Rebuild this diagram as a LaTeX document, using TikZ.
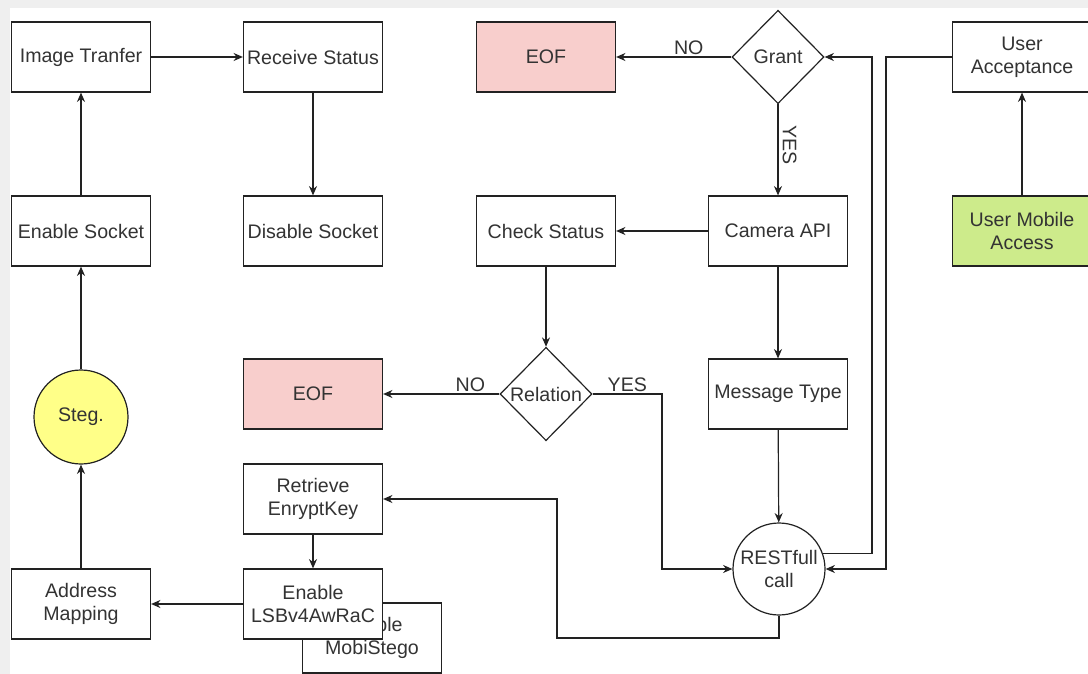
\documentclass[tikz,border=0pt]{standalone}
\usepackage{fontspec}
\setmainfont{Liberation Sans}
\usepackage{xcolor}
\usetikzlibrary{arrows.meta,shapes.geometric,calc}
\definecolor{txt}{HTML}{333333}
\definecolor{edge}{HTML}{222222}
\definecolor{eofred}{HTML}{F8CECC}
\definecolor{mobgreen}{HTML}{CDEB8B}
\definecolor{stegyel}{HTML}{FFFF88}
\definecolor{pane}{HTML}{EFEFEF}

\begin{document}
\begin{tikzpicture}[x=0.75pt,y=-0.75pt,
    font=\fontsize{14.7}{17.3}\selectfont, text=txt,
    box/.style={draw=edge, line width=0.9pt, fill=white, minimum width=104.25pt,
        minimum height=52.5pt, inner sep=1pt, align=center},
    ask/.style={draw=edge, diamond, line width=0.9pt, fill=white,
        minimum width=69pt, minimum height=70pt, inner sep=0pt},
    blob/.style={draw=edge, circle, line width=0.9pt, fill=white,
        minimum size=69pt, inner sep=0pt, align=center},
    arr/.style={-{Stealth[length=7pt,width=6pt]}, line width=0.9pt, draw=edge},
    wire/.style={line width=0.9pt, draw=edge}]

    % page
    \fill[pane] (0,0) rectangle (1088,674);
    \fill[white] (10,8) rectangle (1088,674);
    \useasboundingbox (0,0) rectangle (1088,674);

    % socket column
    \node[box] (img) at (81,57) {Image Tranfer};
    \node[box] (rcv) at (313,57) {Receive Status};
    \node[box] (ensock) at (81,231) {Enable Socket};
    \node[box] (dis) at (313,231) {Disable Socket};
    \node[blob, fill=stegyel, minimum size=70.5pt] (steg) at (81,417) {Steg.};
    \node[box] (addr) at (81,604) {Address\\Mapping};

    % keys and embedding
    \node[box] (mobi) at (372,638) {Enable\\MobiStego};
    \node[box] (ret) at (313,499) {Retrieve\\EnryptKey};
    \node[box] (lsb) at (313,604) {Enable\\LSBv4AwRaC};

    % decisions
    \node[box, fill=eofred] (eofa) at (546,57) {EOF};
    \node[ask] (grant) at (778,57) {\makebox[0pt]{Grant}};
    \node[box] (cam) at (778,231) {Camera API};
    \node[box] (chk) at (546,231) {Check Status};
    \node[ask] (rel) at (546,394) {\makebox[0pt]{Relation}};
    \node[box, fill=eofred] (eofb) at (313,394) {EOF};
    \node[box] (msg) at (778,394) {Message Type};
    \node[blob] (rest) at (779,569) {RESTfull\\call};

    % user side
    \node[box] (usr) at (1022,57) {User\\Acceptance};
    \node[box, fill=mobgreen] (umob) at (1022,231) {User Mobile\\Access};

    % bends
    \coordinate (yesbend) at (662,394);
    \coordinate (upbus) at (872,57);
    \coordinate (downbus) at (886,57);
    \coordinate (backbus) at (557,638);

    \draw[arr] (img) -- (rcv);
    \draw[arr] (rcv) -- (dis);
    \draw[arr] (ensock) -- (img);
    \draw[arr] (steg) -- (ensock);
    \draw[arr] (addr) -- (steg);
    \draw[arr] (lsb) -- (addr);
    \draw[arr] (ret) -- (lsb);

    \draw[arr] (grant) -- node[pos=0.37, above, inner sep=1pt] {NO} (eofa); %label
    \draw[arr] (grant) -- node[pos=0.45, rotate=-90, anchor=south, inner sep=3pt] {YES} (cam); %label
    \draw[arr] (cam) -- (chk);
    \draw[arr] (chk) -- (rel);
    \draw[arr] (rel) -- node[pos=0.25, above, inner sep=1pt] {NO} (eofb); %label
    \draw[arr] (rel.east) -- node[above, inner sep=1pt] {YES} (yesbend) |- (rest); %label
    \draw[arr] (cam) -- (msg);
    \draw[arr] (msg) -- (rest);

    \draw[arr] (rest.19) -| (upbus) -- (grant);
    \draw[arr] (usr.west) -- (downbus) |- (rest);
    \draw[arr] (rest.south) |- (backbus) |- (ret);
    \draw[arr] (umob) -- (usr);
\end{tikzpicture}
\end{document}
